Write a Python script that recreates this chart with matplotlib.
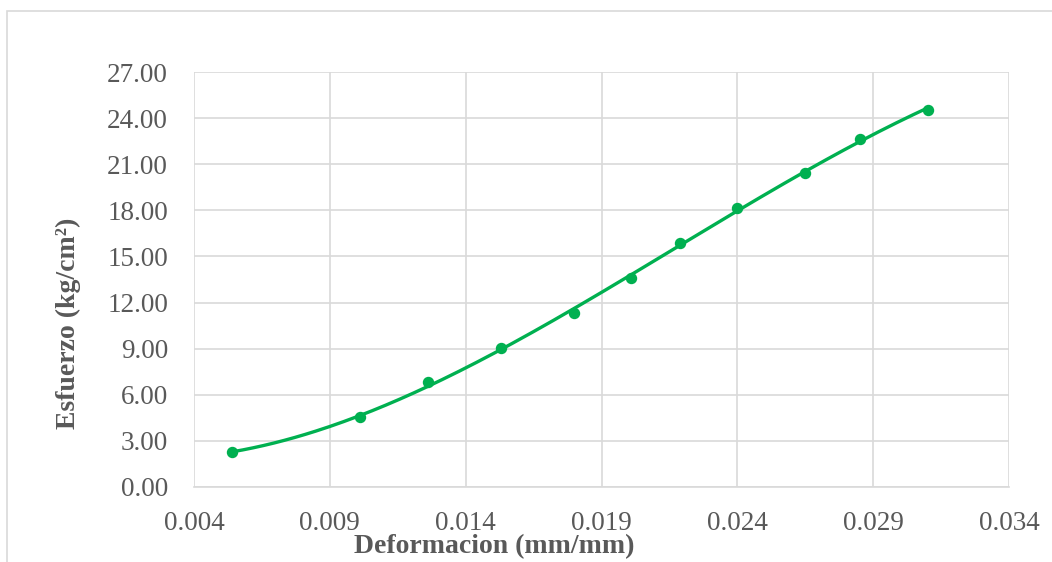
import numpy as np
import matplotlib.pyplot as plt
from matplotlib.patches import Rectangle

# strain (mm/mm) and stress (kg/cm2)
deformacion = [0.0054, 0.0101, 0.0126, 0.0153, 0.0180, 0.0201,
               0.0219, 0.0240, 0.0265, 0.0285, 0.0310]
esfuerzo = [2.27, 4.53, 6.80, 9.07, 11.33, 13.60,
            15.87, 18.13, 20.40, 22.67, 24.55]

x_ticks = [0.004, 0.009, 0.014, 0.019, 0.024, 0.029, 0.034]
y_ticks = [0, 3, 6, 9, 12, 15, 18, 21, 24, 27]

green = '#00B050'
grid_c = '#D9D9D9'
text_c = '#595959'

plt.rcParams['font.family'] = ['Liberation Serif', 'DejaVu Serif']

W, H = 1052, 562
fig = plt.figure(figsize=(W / 100, H / 100), dpi=100)
ax = fig.add_axes([194 / W, 1 - 487 / H, (1009 - 194) / W, (487 - 72) / H])

# outer chart border
fig.patches.append(Rectangle((7 / W, -0.1), 1.2, 1 - 10.5 / H + 0.1,
                             transform=fig.transFigure, fill=False,
                             edgecolor=grid_c, linewidth=1.2))

# polynomial trendline over the data range
xs = np.array(deformacion)
ys = np.array(esfuerzo)
coef = np.polyfit(xs, ys, 3)
xf = np.linspace(xs.min(), xs.max(), 200)
ax.plot(xf, np.polyval(coef, xf), color=green, linewidth=2.4, zorder=3)
ax.plot(xs, ys, 'o', color=green, markersize=7.2, zorder=4)

ax.set_xlim(0.004, 0.034)
ax.set_ylim(0, 27)
ax.set_xticks(x_ticks)
ax.set_xticklabels(['%.3f' % v for v in x_ticks])
ax.set_yticks(y_ticks)
ax.set_yticklabels(['%.2f' % v for v in y_ticks])
ax.grid(True, color=grid_c, linewidth=1.2)
ax.set_axisbelow(True)
for s in ax.spines.values():
    s.set_visible(False)
ax.spines['bottom'].set_visible(True)
ax.spines['bottom'].set_color(grid_c)
ax.spines['bottom'].set_linewidth(1.2)
ax.tick_params(length=0, labelsize=19.5, labelcolor=text_c)
ax.tick_params(axis='y', pad=18.7)
ax.tick_params(axis='x', pad=17)

fig.text(494 / W, 1 - 547 / H, 'Deformacion (mm/mm)', ha='center', va='center',
         fontsize=20, fontweight='bold', color=text_c)
fig.text(68 / W, 1 - 323 / H, 'Esfuerzo (kg/cm²)', ha='center', va='center',
         rotation=90, fontsize=20, fontweight='bold', color=text_c)

fig.savefig('out.png', dpi=100)
